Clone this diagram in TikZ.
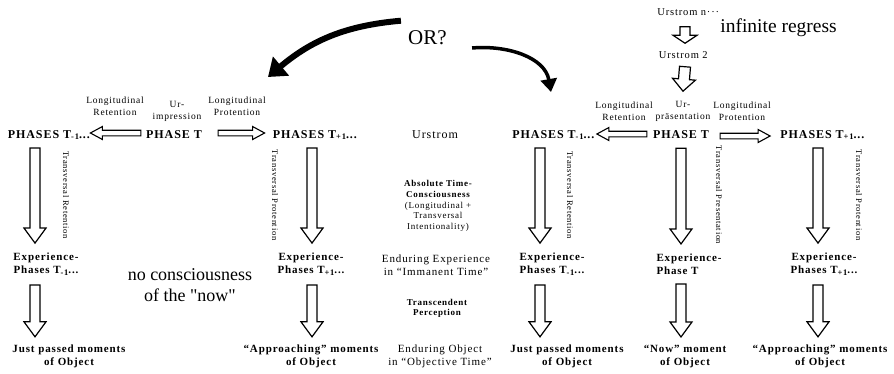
\documentclass[tikz,border=0pt]{standalone}
\usepackage{fontspec}
\setmainfont{Liberation Serif}[LetterSpace=8]
\newfontfamily\plainserif{Liberation Serif}
\usetikzlibrary{calc,arrows.meta}
\newcommand\lowtxt[1]{\raisebox{-1.8pt}{\fontsize{8.5}{9}\selectfont#1}}

\begin{document}
\begin{tikzpicture}[x=1pt, y=-1pt,
      phase/.style={align=center, inner sep=0pt, font=\fontsize{12}{14}\selectfont\bfseries},
      exper/.style={align=center, inner sep=0pt, font=\fontsize{11}{13}\selectfont\bfseries},
      lng/.style={align=center, inner sep=0pt, font=\fontsize{9.5}{12}\selectfont},
      trans/.style={inner sep=0pt, rotate=-90, font=\fontsize{8.5}{10}\selectfont},
      mid/.style={align=center, inner sep=0pt, font=\fontsize{11}{13.5}\selectfont},
      midbf/.style={align=center, inner sep=0pt, font=\fontsize{9}{10.6}\selectfont\bfseries},
      big/.style={align=center, inner sep=0pt, font=\fontsize{18}{21}\plainserif},
      hollow/.style args={#1/#2/#3}{draw, line width=1.2pt, line join=miter, to path={
         (\tikztostart) coordinate (hs) (\tikztotarget) coordinate (ht)
         ($(hs)!#1!-90:(ht)$)
         -- ($(ht)!#3!(hs)!#1!-90:(ht)$)
         -- ($(ht)!#3!(hs)!#2!-90:(ht)$)
         -- (ht)
         -- ($(ht)!#3!(hs)!#2!90:(ht)$)
         -- ($(ht)!#3!(hs)!#1!90:(ht)$)
         -- ($(hs)!#1!90:(ht)$)
         -- cycle}},
      vbig/.style={hollow=5pt/11pt/15pt},
      hsmall/.style={hollow=2.8pt/6.5pt/12pt, line width=1.1pt},
      usmall/.style={hollow=5pt/12pt/8pt},
      ubig/.style={hollow=5.5pt/11.5pt/12pt},
      pick/.style={line width=#1}]
      \useasboundingbox (0,0) rectangle (894,373);

      \node (PhasesMinus) [phase] at (51.5,135) {
         PHASES T\lowtxt{-1}...
      };
      \node (Phase) [phase] at (176,135) {
         PHASE T
      };
      \node (PhasesPlus) [phase] at (317.5,135) {
         PHASES T\lowtxt{+1}...
      };
      \node (Retention) [lng] at (115,106) {
         Longitudinal\\Retention
      };
      \node (Impression) [lng] at (177,111) {
         Ur-\\impression
      };
      \node (Protention) [lng] at (237,106) {
         Longitudinal\\Protention
      };
      \node (ExpMinus) [exper] at (46,264.5) {
         Experience-\\Phases T\lowtxt{-1}...
      };
      \node (ExpPlus) [exper] at (311,264.5) {
         Experience-\\Phases T\lowtxt{+1}...
      };
      \node (ObjMinus) [exper] at (69,356.5) {
         Just passed moments\\of Object
      };
      \node (ObjPlus) [exper] at (311,356.5) {
         “Approaching” moments\\of Object
      };
      \node (TransRet) [trans] at (66,195) {
         Transversal Retention
      };
      \node (TransPro) [trans] at (275,195) {
         Transversal Protention
      };
      \node (NoNow) [big] at (190,285) {
         no consciousness\\of the "now"
      };

      \node (Urstrom) [mid, font=\fontsize{12}{14}\selectfont] at (437,135) {
         Urstrom
      };
      \node (Absolute) [midbf] at (438,206) {
         Absolute Time-\\Consciousness\\\mdseries(Longitudinal +\\\mdseries Transversal\\\mdseries Intentionality)
      };
      \node (EndExp) [mid] at (436,265) {
         Enduring Experience\\in “Immanent Time”
      };
      \node (Transcend) [midbf] at (437,308.5) {
         Transcendent\\Perception
      };
      \node (EndObj) [mid] at (440,356.5) {
         Enduring Object\\in “Objective Time”
      };

      \node (PhasesMinusPrime) [phase] at (556,135) {
         PHASES T\lowtxt{-1}...
      };
      \node (PhasePrime) [phase] at (683,135) {
         PHASE T
      };
      \node (PhasesPlusPrime) [phase] at (825,135) {
         PHASES T\lowtxt{+1}...
      };
      \node (RetentionPrime) [lng] at (624,111.5) {
         Longitudinal\\Retention
      };
      \node (Praesentation) [lng] at (683,111) {
         Ur-\\präsentation
      };
      \node (ProtentionPrime) [lng] at (742,111.5) {
         Longitudinal\\Protention
      };
      \node (ExpMinusPrime) [exper] at (552,264.5) {
         Experience-\\Phases T\lowtxt{-1}...
      };
      \node (ExpNow) [exper, align=left] at (689,264.5) {
         Experience-\\Phase T
      };
      \node (ExpPlusPrime) [exper] at (824,264.5) {
         Experience-\\Phases T\lowtxt{+1}...
      };
      \node (ObjMinusPrime) [exper] at (567,356.5) {
         Just passed moments\\of Object
      };
      \node (ObjNow) [exper] at (685,356.5) {
         “Now” moment\\of Object
      };
      \node (ObjPlusPrime) [exper] at (820,356.5) {
         “Approaching” moments\\of Object
      };
      \node (TransRetPrime) [trans] at (570,195) {
         Transversal Retention
      };
      \node (TransPres) [trans] at (719,195) {
         Transversal Presentation
      };
      \node (TransProPrime) [trans] at (859,195) {
         Transversal Protention
      };
      \node (UrstromN) [lng, font=\fontsize{10.5}{12}\selectfont] at (690,12) {
         Urstrom n···
      };
      \node (UrstromTwo) [lng, font=\fontsize{10.5}{12}\selectfont] at (685,55) {
         Urstrom 2
      };
      \node (Regress) [big, font=\fontsize{19.5}{22}\plainserif] at (781,28) {
         infinite regress
      };
      \node (Or) [big, font=\fontsize{21}{24}\plainserif] at (430,38) {
         OR?
      };
      \coordinate (LeftPick) at (268,77);
      \coordinate (RightPick) at (551,92);

      \draw[hsmall] ([shift={(-5pt,2pt)}]Phase.west) to ([shift={(-5pt,2pt)}]PhasesMinus.east);
      \draw[hsmall] ([shift={(12pt,2pt)}]Phase.east) to ([shift={(-8pt,2pt)}]PhasesPlus.west);
      \draw[hsmall] ([shift={(-6pt,1pt)}]PhasePrime.west) to ([shift={(-3pt,1pt)}]PhasesMinusPrime.east);
      \draw[hsmall] ([shift={(7pt,-1pt)}]PhasePrime.east) to ([shift={(-10pt,-1pt)}]PhasesPlusPrime.west);

      \draw[vbig] ([shift={(-16.5pt,-8pt)}]PhasesMinus.south) to ([shift={(-11pt,10pt)}]ExpMinus.north);
      \draw[vbig] ([shift={(-11pt,-9pt)}]ExpMinus.south) to ([shift={(-34pt,8pt)}]ObjMinus.north);
      \draw[vbig] ([shift={(-5.5pt,-8pt)}]PhasesPlus.south) to ([shift={(1pt,10pt)}]ExpPlus.north);
      \draw[vbig] ([shift={(1pt,-9pt)}]ExpPlus.south) to ([shift={(1pt,8pt)}]ObjPlus.north);
      \draw[vbig] ([shift={(-16pt,-8pt)}]PhasesMinusPrime.south) to ([shift={(-12pt,10pt)}]ExpMinusPrime.north);
      \draw[vbig] ([shift={(-12pt,-9pt)}]ExpMinusPrime.south) to ([shift={(-27pt,8pt)}]ObjMinusPrime.north);
      \draw[vbig] ([shift={(-2pt,-9pt)}]PhasePrime.south) to ([shift={(-8pt,10pt)}]ExpNow.north);
      \draw[vbig] ([shift={(-8pt,-9pt)}]ExpNow.south) to ([shift={(-4pt,8pt)}]ObjNow.north);
      \draw[vbig] ([shift={(-7pt,-8pt)}]PhasesPlusPrime.south) to ([shift={(-6pt,10pt)}]ExpPlusPrime.north);
      \draw[vbig] ([shift={(-6pt,-9pt)}]ExpPlusPrime.south) to ([shift={(-2pt,8pt)}]ObjPlusPrime.north);

      \draw[usmall] ([shift={(-5pt,-11pt)}]UrstromN.south) to ([yshift=8pt]UrstromTwo.north);
      \draw[ubig] ([yshift=-8pt]UrstromTwo.south) to ([yshift=9.5pt]Praesentation.north);

      \draw[pick=6pt, -{Triangle[length=17pt, width=24pt]}] ([shift={(-7pt,10pt)}]Or.north west) to[out=185, in=40] (LeftPick);
      \draw[pick=3.5pt, -{Triangle[length=13pt, width=16pt]}] ([shift={(20pt,-10pt)}]Or.east) to[out=5, in=100] (RightPick);
\end{tikzpicture}
\end{document}
